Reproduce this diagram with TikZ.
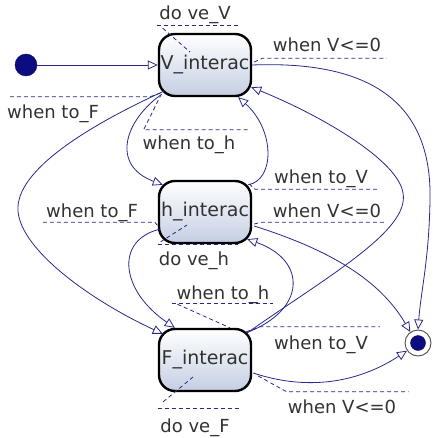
\documentclass[tikz,border=0pt]{standalone}
\usepackage{fontspec}
\setmainfont{DejaVu Sans}
\usetikzlibrary{arrows.meta}
\definecolor{umlnavy}{RGB}{40,40,140}
\definecolor{umldot}{RGB}{12,12,128}
\definecolor{umltext}{RGB}{50,50,50}
\definecolor{umlfill}{RGB}{196,206,226}
\newcommand{\lblfont}{\fontsize{18}{20}\selectfont}
\newcommand{\statefont}{\fontsize{19}{22}\selectfont}

\begin{document}
\begin{tikzpicture}[x=1pt, y=-1pt,
    statebox/.style={rectangle, rounded corners=16pt, draw=black, line width=2.4pt, top color=white, bottom color=umlfill, minimum width=92pt, minimum height=62pt, inner sep=0pt, font=\statefont, text=umltext},
    startdot/.style={circle, fill=umldot, draw=umldot!80!black, minimum size=22pt, inner sep=0pt},
    endring/.style={circle, fill=white, draw=black!70, line width=0.9pt, minimum size=26pt, inner sep=0pt},
    enddot/.style={circle, fill=umldot, draw=umldot!70!black, minimum size=15pt, inner sep=0pt},
    lbl/.style={inner sep=1pt, font=\lblfont, text=umltext, text height=14pt, text depth=4pt},
    trans/.style={draw=umlnavy, line width=0.8pt, -{Triangle[open, length=10pt, width=9pt, line width=0.8pt]}},
    guide/.style={draw=umlnavy, line width=0.8pt, dash pattern=on 4pt off 3pt}
  ]
  \useasboundingbox (0,0) rectangle (434,438);

  % states
  \node[startdot] (init) at (26,65) {};
  \node[statebox] (V) at (205,65) {V\_interac};
  \node[statebox] (h) at (205,212) {h\_interac};
  \node[statebox] (F) at (205,360) {F\_interac};
  \node[endring] (fin) at (418,343) {};
  \node[enddot] (fincore) at (fin) {};

  % transitions
  \draw[trans] (init) -- (V);
  \draw[trans] ([shift={(6,-6)}]V.south west) .. controls (90,125) and (15,170) .. (18,211) .. controls (21,250) and (90,300) .. ([shift={(5,6)}]F.north west);
  \draw[trans] ([shift={(4,-3)}]V.south west) .. controls (125,120) and (110,165) .. ([shift={(5,5)}]h.north west);
  \draw[trans] ([shift={(-4,5)}]h.north east) .. controls (275,180) and (275,130) .. ([shift={(-14,0)}]V.south east);
  \draw[trans] (V.east) .. controls (380,60) and (432,110) .. (430,200) .. controls (429,260) and (421,290) .. (fin.north);
  \draw[trans] ([shift={(-5,5)}]F.north east) .. controls (330,275) and (410,230) .. (403,193) .. controls (398,160) and (320,115) .. ([shift={(-1,-10)}]V.south east);
  \draw[trans] ([shift={(2,14)}]h.east) .. controls (330,250) and (380,280) .. (fin.125);
  \draw[trans] ([shift={(-6,5)}]F.north east) .. controls (307,310) and (307,260) .. ([shift={(-5,-5)}]h.south east);
  \draw[trans] ([shift={(2,-15)}]h.south west) .. controls (115,240) and (120,290) .. ([shift={(17,0)}]F.north west);
  \draw[trans] ([shift={(1,13)}]F.east) .. controls (320,395) and (370,375) .. (fin.215);

  % labels
  \node[lbl] (doV) at (195,15) {do ve\_V};
  \node[lbl] (toF1) at (53,114) {when to\_F};
  \node[lbl] (toh1) at (189,145) {when to\_h};
  \node[lbl] (VV01) at (327,47) {when V<=0};
  \node[lbl] (toV1) at (321,179) {when to\_V};
  \node[lbl] (VV02) at (327,212) {when V<=0};
  \node[lbl] (toF2) at (92,212) {when to\_F};
  \node[lbl] (doh) at (194,260) {do ve\_h};
  \node[lbl] (toh2) at (223,294) {when to\_h};
  \node[lbl] (toV2) at (321,344) {when to\_V};
  \node[lbl] (VV03) at (342,408) {when V<=0};
  \node[lbl] (doF) at (195,427) {do ve\_F};

  \draw[guide] (doV.south west) ++(-1.5,0) -- ++(83,0);
  \draw[guide] (doV.south west) ++(4.5,3) -- ([shift={(-15,-13)}]V.center);
  \draw[guide] (toF1.north west) ++(4,-7) -- ++(140,0) -- ([shift={(5,-5)}]V.south west);
  \draw[guide] (toh1.north east) ++(11,-5) -- ++(-104,0) -- ([shift={(3,-2)}]V.south west);
  \draw[guide] ([shift={(2,-3)}]V.east) -- ([shift={(-9,1)}]VV01.south west) -- ++(124,0);
  \draw[guide] ([shift={(-3,4)}]h.north east) -- ([shift={(-18,0)}]toV1.south west) -- ++(123,0);
  \draw[guide] ([shift={(2,12)}]h.east) -- ([shift={(-10,0)}]VV02.south west) -- ++(125,0);
  \draw[guide] (toF2.south west) ++(-2,0) -- ++(112,0) -- ([shift={(1,-17)}]h.south west);
  \draw[guide] (doh.north west) ++(0,-5) -- ++(80,0);
  \draw[guide] (doh.north west) ++(3,-8) -- ([shift={(-18,13)}]h.center);
  \draw[guide] (toh2.south west) ++(-3.5,-1) -- ++(101,0);
  \draw[guide] (toh2.south west) ++(2,0) -- ([shift={(25,0)}]F.north);
  \draw[guide] ([shift={(-6,4)}]F.north east) -- ([shift={(-13,-7)}]toV2.north west) -- ++(120,0);
  \draw[guide] ([shift={(6,16)}]F.east) -- ([shift={(0,-6)}]VV03.north west) -- ++(122,0);
  \draw[guide] (doF.north west) ++(-1.5,-8) -- ++(81,0);
  \draw[guide] (doF.north west) ++(4,-15) -- ([shift={(-12,17)}]F.center);
\end{tikzpicture}
\end{document}
